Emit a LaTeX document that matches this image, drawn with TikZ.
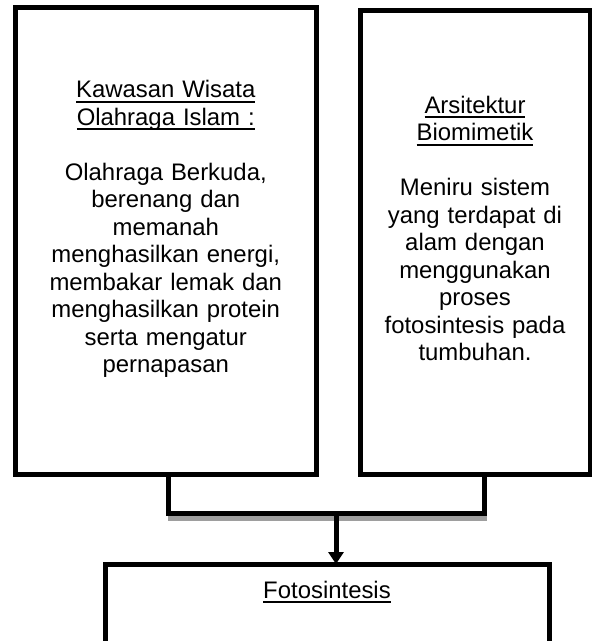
\documentclass[tikz,border=0pt]{standalone}
\usepackage{fontspec}
\setmainfont{Liberation Sans}
\usetikzlibrary{arrows.meta}
\newcommand\ulx[1]{\leavevmode\setbox0\hbox{#1}\rlap{\rule[-5pt]{\wd0}{2pt}}\box0}
\begin{document}
\begin{tikzpicture}[x=1pt,y=-1pt,
  box/.style={draw,line width=5pt,inner sep=0pt,outer sep=0pt},
  conn/.style={line width=5pt,line cap=rect},
  shadowline/.style={line width=5pt,draw=black!38},
  txt/.style={font=\fontsize{23.9}{27.5}\selectfont,align=center,inner sep=0pt,anchor=base}]
\useasboundingbox (0,0) rectangle (592,641);
\begin{scope}
\clip (0,0) rectangle (592,641);
\node[box,minimum width=300.5pt,minimum height=466.5pt] (L) at (165.75,240.75) {};
\node[box,minimum width=230pt,minimum height=464pt] (R) at (475,242) {};
\node[box,minimum width=444pt,minimum height=82pt] (B) at (327,605) {};
\node[txt,text width=290pt] (Lt) at (165.75,97.5) {\ulx{Kawasan Wisata}\\\ulx{Olahraga Islam :}\\[27.5pt]Olahraga Berkuda,\\berenang dan\\memanah\\menghasilkan energi,\\membakar lemak dan\\menghasilkan protein\\serta mengatur\\pernapasan};
\node[txt,text width=220pt] (Rt) at (475,113.3) {\ulx{Arsitektur}\\\ulx{Biomimetik}\\[27.5pt]Meniru sistem\\yang terdapat di\\alam dengan\\menggunakan\\proses\\fotosintesis pada\\tumbuhan.};
\node[txt] (Bt) at (327,598) {\ulx{Fotosintesis}};
\coordinate (j1) at (168,513.5);
\coordinate (j2) at (484,513.5);
\coordinate (a) at (336,513.5);
\draw[shadowline] ([yshift=-5pt]j1) -- ([yshift=-5pt,xshift=3pt]j2);
\draw[conn] (L.south -| j1) -- (j1) -- (j2) -- (R.south -| j2);
\draw[line width=5pt,-{Triangle[width=15pt,length=12pt]}] (a) -- (B.north -| a);
\end{scope}
\end{tikzpicture}
\end{document}
